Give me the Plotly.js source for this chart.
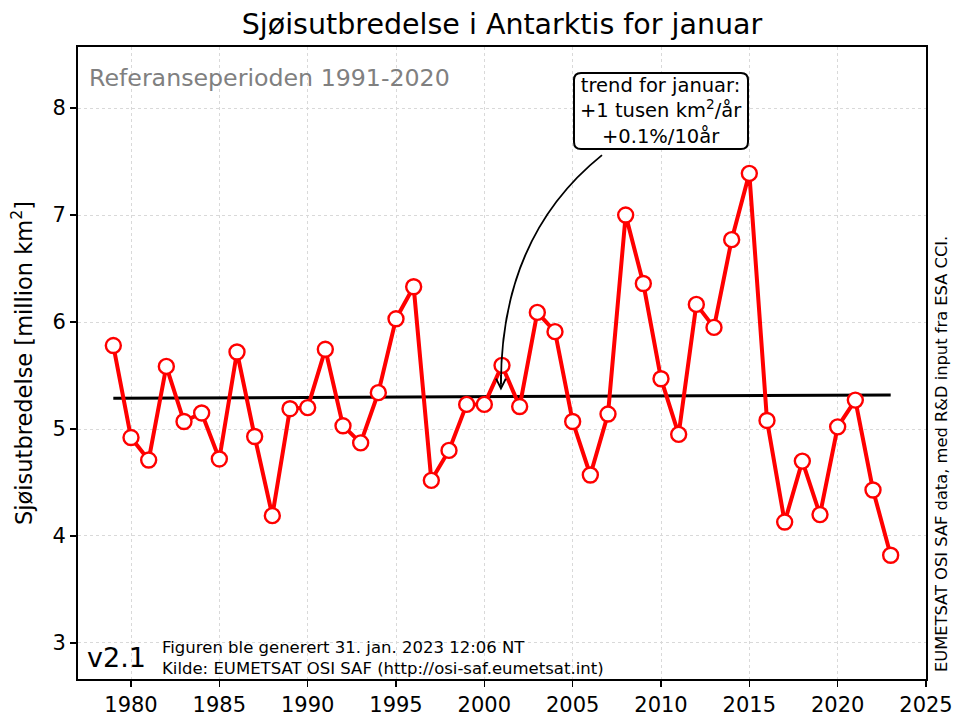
<!DOCTYPE html>
<html>
<head>
<meta charset="utf-8">
<script src="https://cdn.plot.ly/plotly-3.0.1.min.js"></script>
<style>html,body{margin:0;padding:0;background:#fff;}#chart{width:957px;height:718px;}</style>
</head>
<body>
<div id="chart"></div>
<script>
const years = [1979,1980,1981,1982,1983,1984,1985,1986,1987,1988,1989,1990,1991,1992,1993,1994,1995,1996,1997,1998,1999,2000,2001,2002,2003,2004,2005,2006,2007,2008,2009,2010,2011,2012,2013,2014,2015,2016,2017,2018,2019,2020,2021,2022,2023];
const extent = [5.78,4.92,4.71,5.585,5.07,5.15,4.72,5.72,4.93,4.19,5.19,5.20,5.745,5.03,4.87,5.34,6.03,6.33,4.52,4.80,5.23,5.23,5.595,5.21,6.09,5.91,5.07,4.57,5.14,7.00,6.36,5.47,4.95,6.165,5.95,6.77,7.39,5.08,4.13,4.70,4.20,5.02,5.27,4.43,3.82];
const trendYears = [1979, 2023];
const trendValues = [5.287, 5.318];
const xTicks = [1980,1985,1990,1995,2000,2005,2010,2015,2020,2025];
const yTicks = [3,4,5,6,7,8];

const F = 'DejaVu Sans';
// pixel -> paper helpers (plot area 78..926 x 47..679)
const px = v => (v - 78) / 848;
const py = v => (679 - v) / 632;
function roundRect(x0, y0, x1, y1, r) {
  const rx = r / 848, ry = r / 632;
  const X0 = px(x0), X1 = px(x1), Y0 = py(y0), Y1 = py(y1);
  return `M ${X0+rx},${Y0} L ${X1-rx},${Y0} Q ${X1},${Y0} ${X1},${Y0-ry} L ${X1},${Y1+ry} Q ${X1},${Y1} ${X1-rx},${Y1} L ${X0+rx},${Y1} Q ${X0},${Y1} ${X0},${Y1+ry} L ${X0},${Y0-ry} Q ${X0},${Y0} ${X0+rx},${Y0} Z`;
}

const traces = [
  {x: trendYears, y: trendValues, mode: 'lines', line: {color: 'black', width: 3}, hoverinfo: 'skip'},
  {x: years, y: extent, mode: 'lines+markers', line: {color: '#ff0000', width: 4},
   marker: {size: 15, color: 'white', line: {color: '#ff0000', width: 2.4}}}
];
const layout = {
  width: 957, height: 718,
  margin: {l: 78, r: 31, t: 47, b: 39},
  showlegend: false,
  paper_bgcolor: 'white', plot_bgcolor: 'white',
  font: {family: F, color: 'black'},
  title: {text: 'Sjøisutbredelse i Antarktis for januar', font: {family: F, size: 28.5, color: 'black'},
          x: 0.5, xref: 'paper', xanchor: 'center', y: 1 - 24/718, yref: 'container', yanchor: 'middle'},
  xaxis: {range: [1977, 2025], tickvals: xTicks, ticks: 'outside', ticklen: 6, tickwidth: 1.5, tickcolor: 'black',
          showline: true, linecolor: 'black', linewidth: 2, mirror: true,
          showgrid: true, gridcolor: '#d9d9d9', griddash: '3px,3px', gridwidth: 1, zeroline: false,
          tickfont: {family: F, size: 21, color: 'black'}},
  yaxis: {range: [2.663, 8.571], tickvals: yTicks, ticks: 'outside', ticklen: 6, tickwidth: 1.5, tickcolor: 'black',
          showline: true, linecolor: 'black', linewidth: 2, mirror: true,
          showgrid: true, gridcolor: '#d9d9d9', griddash: '3px,3px', gridwidth: 1, zeroline: false,
          tickfont: {family: F, size: 21, color: 'black'},
          title: {text: 'Sjøisutbredelse [million km<sup>2</sup>]', font: {family: F, size: 22.5, color: 'black'}, standoff: 14}},
  shapes: [
    {type: 'path', xref: 'paper', yref: 'paper', path: roundRect(574, 73, 748, 149, 7),
     line: {color: 'black', width: 2}, fillcolor: 'white', layer: 'above'},
    {type: 'path', xref: 'x', yref: 'y', path: 'M 2006.66,7.56 Q 2000.94,6.80 2000.94,5.42',
     line: {color: 'black', width: 1.8}}
  ],
  annotations: [
    {x: 2000.94, y: 5.36, ax: 2000.94, ay: 5.52, xref: 'x', yref: 'y', axref: 'x', ayref: 'y',
     text: '', showarrow: true, arrowhead: 5, arrowsize: 1.2, arrowwidth: 1.6, arrowcolor: 'black'},
    {x: px(661), y: py(111), xref: 'paper', yref: 'paper', xanchor: 'center', yanchor: 'middle', showarrow: false,
     text: 'trend for januar:<br>+1 tusen km<sup>2</sup>/år<br>+0.1%/10år',
     font: {family: F, size: 19.5, color: 'black'}, align: 'center'},
    {x: px(87), y: py(78), xref: 'paper', yref: 'paper', xanchor: 'left', yanchor: 'middle', showarrow: false,
     text: 'Referanseperioden 1991-2020', font: {family: F, size: 23.7, color: '#808080'}},
    {x: px(85), y: py(657), xref: 'paper', yref: 'paper', xanchor: 'left', yanchor: 'middle', showarrow: false,
     text: 'v2.1', font: {family: F, size: 27, color: 'black'}},
    {x: px(160), y: py(658), xref: 'paper', yref: 'paper', xanchor: 'left', yanchor: 'middle', showarrow: false, align: 'left',
     text: 'Figuren ble generert 31. jan. 2023 12:06 NT<br>Kilde: EUMETSAT OSI SAF (http://osi-saf.eumetsat.int)', font: {family: F, size: 16.5, color: 'black'}},
    {x: px(941), y: py(454), xref: 'paper', yref: 'paper', xanchor: 'center', yanchor: 'middle', showarrow: false, textangle: -90,
     text: 'EUMETSAT OSI SAF data, med R&D input fra ESA CCI.', font: {family: F, size: 16.3, color: 'black'}}
  ]
};
Plotly.newPlot('chart', traces, layout, {displayModeBar: false, staticPlot: true});
</script>
</body>
</html>
